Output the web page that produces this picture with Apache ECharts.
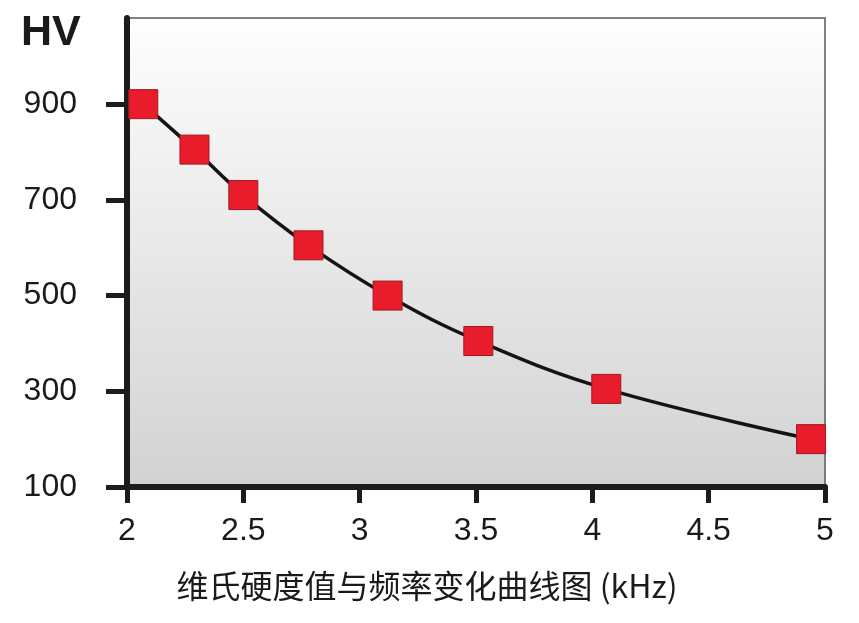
<!DOCTYPE html>
<html>
<head>
<meta charset="utf-8">
<script src="https://cdn.jsdelivr.net/npm/echarts@6/dist/echarts.min.js"></script>
<style>
  html, body { margin: 0; padding: 0; background: #fff; }
  #chart { width: 859px; height: 623px; }
</style>
</head>
<body>
<div id="chart"></div>
<script>
const freq = [2.07, 2.29, 2.5, 2.78, 3.12, 3.51, 4.06, 4.94]
const hardness = [900, 805, 710, 605, 500, 405, 305, 200]
const yTicks = [100, 300, 500, 700, 900]
const xTitle = '维氏硬度值与频率变化曲线图 (kHz)'
const yTitle = 'HV'

const chart = echarts.init(document.getElementById('chart'))

const axisColor = '#1c1c1c'
const labelFont = { color: '#1a1a1a', fontFamily: 'Liberation Sans', fontSize: 32 }

const option = {
  animation: false,
  grid: {
    left: 127,
    right: 34,
    top: 18,
    bottom: 136,
    show: true,
    borderColor: '#5a5a5a',
    borderWidth: 1.5,
    backgroundColor: {
      type: 'linear', x: 0, y: 0, x2: 0, y2: 1,
      colorStops: [
        { offset: 0, color: '#fefefe' },
        { offset: 1, color: '#d2d2d2' }
      ]
    }
  },
  xAxis: {
    type: 'value',
    min: 2,
    max: 5,
    interval: 0.5,
    axisLine: { lineStyle: { color: axisColor, width: 6 } },
    axisTick: { length: 16, lineStyle: { color: axisColor, width: 5 } },
    axisLabel: { margin: 28, ...labelFont },
    splitLine: { show: false }
  },
  yAxis: {
    type: 'value',
    min: 100,
    max: 1080,
    axisLine: { show: true, lineStyle: { color: axisColor, width: 6 } },
    axisTick: { show: true, length: 21, customValues: yTicks, lineStyle: { color: axisColor, width: 5 } },
    axisLabel: { margin: 50, customValues: yTicks, ...labelFont },
    splitLine: { show: false }
  },
  graphic: [
    {
      type: 'text',
      left: 21,
      top: 12,
      style: {
        text: yTitle,
        fill: '#1a1a1a',
        font: 'bold 43px "Liberation Sans"'
      }
    },
    {
      type: 'text',
      x: 427,
      y: 586,
      style: {
        text: xTitle,
        fill: '#1a1a1a',
        font: '32px "Noto Sans CJK SC"',
        align: 'center',
        verticalAlign: 'middle'
      }
    }
  ],
  series: [
    {
      type: 'line',
      data: freq.map((f, i) => [f, hardness[i]]),
      smooth: 0.4,
      symbol: 'rect',
      symbolSize: 29,
      lineStyle: { color: '#141414', width: 3.5 },
      itemStyle: { color: '#e81c2a', borderColor: '#9e1a20', borderWidth: 1 },
      z: 3
    }
  ]
}

chart.setOption(option)
</script>
</body>
</html>
